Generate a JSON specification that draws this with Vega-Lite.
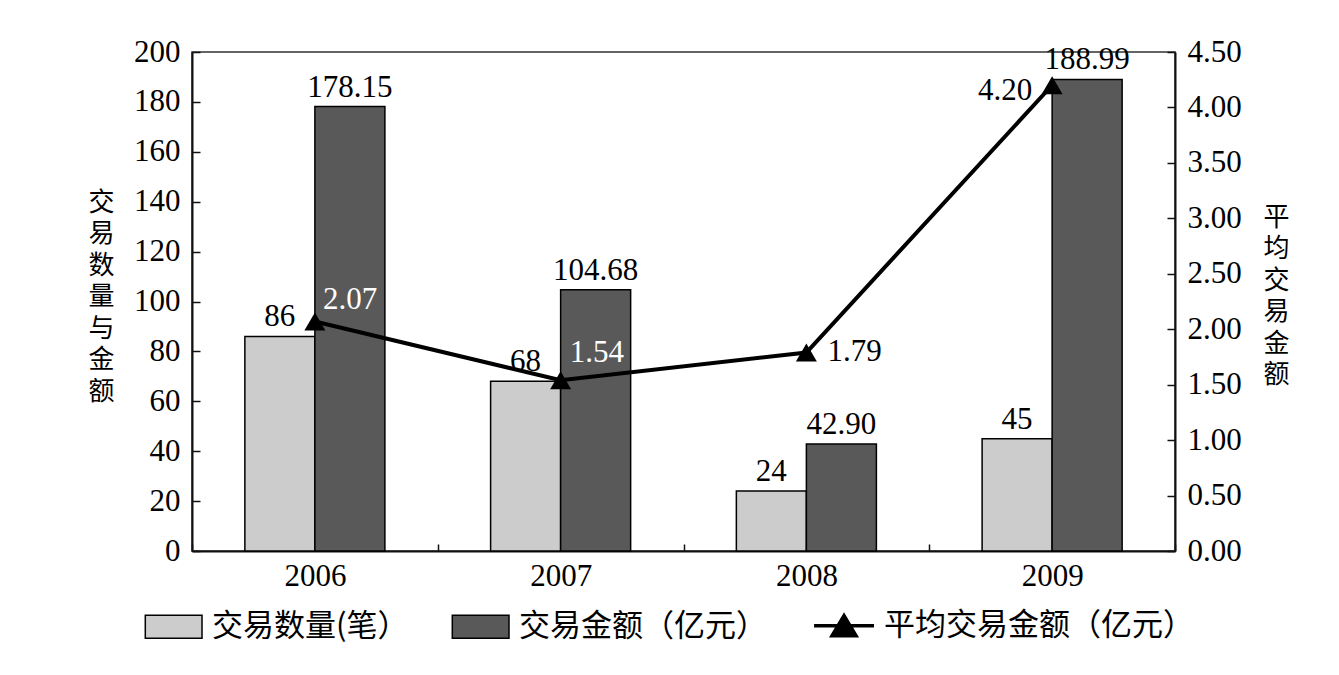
{
  "$schema": "https://vega.github.io/schema/vega-lite/v6.json",
  "width": 983,
  "height": 499,
  "autosize": "none",
  "padding": {"left": 192, "top": 52, "right": 164, "bottom": 124},
  "background": "white",
  "datasets": {
    "bars": [
      {"year": "2006", "series": "交易数量(笔）", "value": 86},
      {"year": "2006", "series": "交易金额（亿元）", "value": 178.15},
      {"year": "2007", "series": "交易数量(笔）", "value": 68},
      {"year": "2007", "series": "交易金额（亿元）", "value": 104.68},
      {"year": "2008", "series": "交易数量(笔）", "value": 24},
      {"year": "2008", "series": "交易金额（亿元）", "value": 42.90},
      {"year": "2009", "series": "交易数量(笔）", "value": 45},
      {"year": "2009", "series": "交易金额（亿元）", "value": 188.99}
    ],
    "avg": [
      {"year": "2006", "series": "平均交易金额（亿元）", "avg": 2.07},
      {"year": "2007", "series": "平均交易金额（亿元）", "avg": 1.54},
      {"year": "2008", "series": "平均交易金额（亿元）", "avg": 1.79},
      {"year": "2009", "series": "平均交易金额（亿元）", "avg": 4.20}
    ]
  },
  "config": {
    "font": "Liberation Serif, Noto Sans CJK SC",
    "view": {"stroke": "#333333", "strokeWidth": 1.5},
    "axis": {
      "domainColor": "#111111",
      "domainWidth": 2,
      "tickColor": "#111111",
      "tickWidth": 1.5,
      "grid": false,
      "labelFont": "Liberation Serif",
      "labelFontSize": 31,
      "labelColor": "black",
      "titleFont": "Noto Sans CJK SC",
      "titleFontSize": 26,
      "titleFontWeight": "normal",
      "titleColor": "black"
    },
    "text": {"font": "Liberation Serif", "fontSize": 31}
  },
  "resolve": {"scale": {"y": "independent"}},
  "layer": [
    {
      "data": {"name": "bars"},
      "layer": [
        {
          "mark": {"type": "bar", "stroke": "black", "strokeWidth": 1.5},
          "encoding": {
            "x": {
              "field": "year", "type": "nominal",
              "scale": {"paddingInner": 0, "paddingOuter": 0},
              "axis": {
                "title": null, "labelAngle": 0, "tickBand": "extent",
                "tickSize": -7, "labelPadding": 17, "labelBaseline": "top"
              }
            },
            "xOffset": {
              "field": "series", "type": "nominal",
              "sort": ["交易数量(笔）", "交易金额（亿元）"],
              "scale": {"paddingInner": 0, "paddingOuter": 0.755}
            },
            "y": {
              "field": "value", "type": "quantitative",
              "scale": {"domain": [0, 200], "nice": false, "zero": true},
              "axis": {
                "orient": "left",
                "values": [0, 20, 40, 60, 80, 100, 120, 140, 160, 180, 200],
                "tickSize": -8, "labelPadding": 20,
                "title": ["交", "易", "数", "量", "与", "金", "额"],
                "titleAngle": 0, "titleLineHeight": 31.5,
                "titleAlign": "center", "titleBaseline": "middle",
                "titleX": -91, "titleY": 150
              }
            },
            "color": {
              "field": "series", "type": "nominal",
              "scale": {
                "domain": ["交易数量(笔）", "交易金额（亿元）", "平均交易金额（亿元）"],
                "range": ["#cccccc", "#595959", "black"]
              },
              "legend": {
                "orient": "none", "legendX": -19, "legendY": 558,
                "direction": "horizontal", "title": null,
                "symbolType": "square", "symbolSize": 729,
                "symbolStrokeColor": "black", "symbolStrokeWidth": 1.5,
                "labelFont": "Noto Sans CJK SC", "labelFontSize": 31,
                "labelColor": "black", "labelOffset": 8, "labelLimit": 400,
                "columnPadding": 40,
                "encode": {
                  "symbols": {
                    "update": {
                      "shape": {"signal": "datum.value === '平均交易金额（亿元）' ? 'M-3.44,0H1M-1.22,-0.75L-0.33,0.75L-2.11,0.75Z' : 'M-3.2,-0.85H1V0.85H-3.2Z'"},
                      "strokeWidth": {"signal": "datum.value === '平均交易金额（亿元）' ? 3.5 : 1.5"},
                      "stroke": {"value": "black"}
                    }
                  }
                }
              }
            }
          }
        },
        {
          "transform": [{"filter": "datum.series === '交易数量(笔）'"}],
          "mark": {"type": "text", "baseline": "alphabetic", "dy": -10, "color": "black"},
          "encoding": {
            "x": {"field": "year", "type": "nominal"},
            "xOffset": {"field": "series", "type": "nominal", "sort": ["交易数量(笔）", "交易金额（亿元）"]},
            "y": {"field": "value", "type": "quantitative"},
            "text": {"field": "value", "type": "quantitative", "format": "d"}
          }
        },
        {
          "transform": [{"filter": "datum.series === '交易金额（亿元）'"}],
          "mark": {"type": "text", "baseline": "alphabetic", "dy": -10, "color": "black"},
          "encoding": {
            "x": {"field": "year", "type": "nominal"},
            "xOffset": {"field": "series", "type": "nominal", "sort": ["交易数量(笔）", "交易金额（亿元）"]},
            "y": {"field": "value", "type": "quantitative"},
            "text": {"field": "value", "type": "quantitative", "format": ".2f"}
          }
        }
      ]
    },
    {
      "data": {"name": "avg"},
      "layer": [
        {
          "mark": {"type": "line", "color": "black", "strokeWidth": 4},
          "encoding": {
            "x": {"field": "year", "type": "nominal"},
            "y": {
              "field": "avg", "type": "quantitative",
              "scale": {"domain": [0, 4.5], "nice": false},
              "axis": {
                "orient": "right",
                "values": [0, 0.5, 1, 1.5, 2, 2.5, 3, 3.5, 4, 4.5],
                "format": ".2f", "tickSize": -8, "labelPadding": 20,
                "title": ["平", "均", "交", "易", "金", "额"],
                "titleAngle": 0, "titleLineHeight": 31.5,
                "titleAlign": "center", "titleBaseline": "middle",
                "titleX": 101, "titleY": 165
              }
            }
          }
        },
        {
          "mark": {"type": "point", "shape": "triangle-up", "filled": true, "color": "black", "size": 440, "opacity": 1},
          "encoding": {
            "x": {"field": "year", "type": "nominal"},
            "y": {"field": "avg", "type": "quantitative"}
          }
        },
        {
          "transform": [{"filter": "datum.year === '2006'"}],
          "mark": {"type": "text", "align": "left", "baseline": "middle", "dx": 8, "dy": -21, "color": "white"},
          "encoding": {
            "x": {"field": "year", "type": "nominal"},
            "y": {"field": "avg", "type": "quantitative"},
            "text": {"field": "avg", "type": "quantitative", "format": ".2f"}
          }
        },
        {
          "transform": [{"filter": "datum.year === '2007'"}],
          "mark": {"type": "text", "align": "left", "baseline": "middle", "dx": 9, "dy": -27, "color": "white"},
          "encoding": {
            "x": {"field": "year", "type": "nominal"},
            "y": {"field": "avg", "type": "quantitative"},
            "text": {"field": "avg", "type": "quantitative", "format": ".2f"}
          }
        },
        {
          "transform": [{"filter": "datum.year === '2008'"}],
          "mark": {"type": "text", "align": "left", "baseline": "middle", "dx": 21, "dy": -1, "color": "black"},
          "encoding": {
            "x": {"field": "year", "type": "nominal"},
            "y": {"field": "avg", "type": "quantitative"},
            "text": {"field": "avg", "type": "quantitative", "format": ".2f"}
          }
        },
        {
          "transform": [{"filter": "datum.year === '2009'"}],
          "mark": {"type": "text", "align": "right", "baseline": "middle", "dx": -20, "dy": 6, "color": "black"},
          "encoding": {
            "x": {"field": "year", "type": "nominal"},
            "y": {"field": "avg", "type": "quantitative"},
            "text": {"field": "avg", "type": "quantitative", "format": ".2f"}
          }
        }
      ]
    }
  ]
}
